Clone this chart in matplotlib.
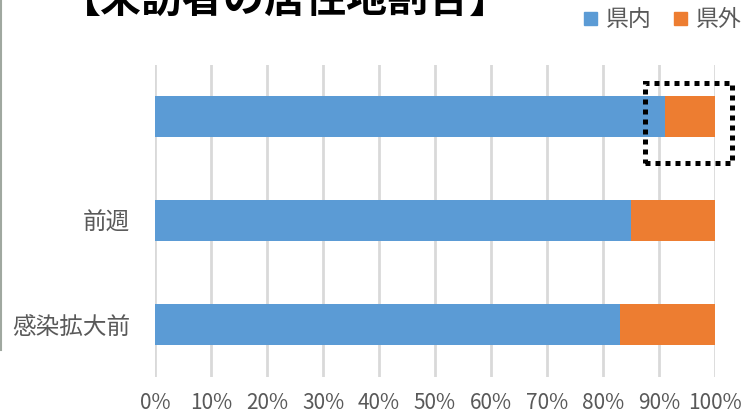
import matplotlib.pyplot as plt
from matplotlib.patches import Rectangle, Patch
from matplotlib.ticker import PercentFormatter

plt.rcParams['font.family'] = ['Noto Sans CJK JP', 'DejaVu Sans']

# data, listed bottom to top
categories = ["感染拡大前", "前週", ""]
inside = [83, 85, 91]      # 県内 (%)
outside = [17, 15, 9]      # 県外 (%)
blue = "#5B9BD5"
orange = "#ED7D31"
grey = "#595959"

fig = plt.figure(figsize=(7.41, 4.16), dpi=100)
ax = fig.add_axes([155 / 741, 1 - 376.5 / 416, 560 / 741, 312 / 416])

y = range(len(categories))
ax.barh(y, inside, height=0.4, color=blue, zorder=3)
ax.barh(y, outside, left=inside, height=0.4, color=orange, zorder=3)

ax.set_xlim(0, 100)
ax.set_ylim(-0.5, len(categories) - 0.5)
ax.set_xticks(range(0, 101, 10))
ax.xaxis.set_major_formatter(PercentFormatter(decimals=0))
ax.set_yticks(list(y))
ax.set_yticklabels(categories)
ax.tick_params(axis="x", length=0, pad=11.5, labelsize=15, labelcolor=grey)
ax.tick_params(axis="y", length=0, pad=18, labelsize=17, labelcolor=grey)
ax.grid(axis="x", color="#D9D9D9", linewidth=2, zorder=0)
for s in ax.spines.values():
    s.set_visible(False)

# title, cut off at the top as in the original
fig.text(60 / 741, 1.0015, "【来訪者の居住地割合】", fontsize=29.5, fontweight="bold",
         ha="left", va="center")

# legend
handles = [Patch(color=blue, label="県内"), Patch(color=orange, label="県外")]
fig.legend(handles=handles, loc="center right", bbox_to_anchor=(742 / 741, 1 - 20 / 416),
           ncol=2, frameon=False, fontsize=16.5, handlelength=0.57, handleheight=0.5,
           handletextpad=0.4, columnspacing=0.96, borderpad=0, borderaxespad=0,
           labelcolor=grey)

# dotted highlight box
fig.add_artist(Rectangle((645 / 741, 1 - 163 / 416), 87 / 741, 80 / 416,
                         transform=fig.transFigure, fill=False, edgecolor="black",
                         linewidth=3.6, linestyle=(0, (1, 1))))

# thin border remnant on the left
fig.add_artist(plt.Line2D([1 / 741, 1 / 741], [1, 1 - 350 / 416],
                          transform=fig.transFigure, color="#A0A8A0", linewidth=1.5))

fig.savefig("out.png", dpi=100)
